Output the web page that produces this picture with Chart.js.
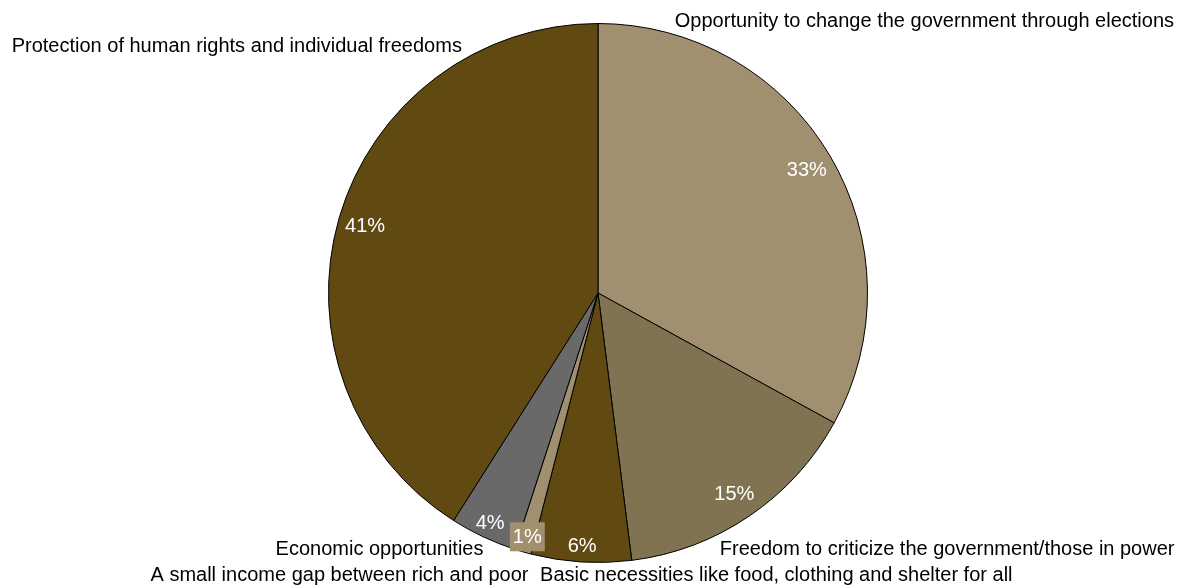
<!DOCTYPE html>
<html>
<head>
<meta charset="utf-8">
<script src="https://cdn.jsdelivr.net/npm/chart.js@4"></script>
<style>
  html, body { margin: 0; padding: 0; background: #fff; }
  #wrap { width: 1181px; height: 588px; }
</style>
</head>
<body>
<div id="wrap"><canvas id="pie-chart"></canvas></div>
<script>
var categories = [
    'Opportunity to change the government through elections',
    'Freedom to criticize the government/those in power',
    'Basic necessities like food, clothing and shelter for all',
    'A small income gap between rich and poor',
    'Economic opportunities',
    'Protection of human rights and individual freedoms'
];
var shares = [33, 15, 6, 1, 4, 41];
var colors = ['#a09070', '#7f7352', '#614a12', '#a09070', '#696969', '#614a12'];

// where each category name sits, in pie radii from the centre
var namePos = [
    { x: 0.285, y: -1.008, align: 'left' },
    { x: 0.452, y: 0.952, align: 'left' },
    { x: -0.215, y: 1.048, align: 'left' },
    { x: -0.258, y: 1.048, align: 'right' },
    { x: -0.425, y: 0.952, align: 'right' },
    { x: -0.505, y: -0.915, align: 'right' }
];

var FONT = '20px "Liberation Sans", Arial, sans-serif';

var pieLabels = {
    id: 'pieLabels',
    afterDatasetsDraw: function (chart) {
        var ctx = chart.ctx;
        var meta = chart.getDatasetMeta(0);
        var total = shares.reduce(function (a, b) { return a + b; }, 0);
        ctx.save();
        ctx.font = FONT;
        ctx.textBaseline = 'middle';
        meta.data.forEach(function (arc, i) {
            var p = arc.getProps(['x', 'y', 'startAngle', 'endAngle', 'outerRadius'], true);
            var mid = (p.startAngle + p.endAngle) / 2;
            var rr = p.outerRadius * (shares[i] < 10 ? 0.94 : 0.9);
            var lx = p.x + Math.cos(mid) * rr;
            var ly = p.y + Math.sin(mid) * rr;
            var txt = Math.round(shares[i] / total * 100) + '%';
            ctx.textAlign = 'center';
            if (shares[i] < 2) {
                var w = ctx.measureText(txt).width;
                ctx.fillStyle = colors[i];
                ctx.fillRect(lx - w / 2 - 3, ly - 14, w + 6, 29);
            }
            ctx.fillStyle = '#ffffff';
            ctx.fillText(txt, lx, ly + 1);

            var np = namePos[i];
            ctx.fillStyle = '#000000';
            ctx.textAlign = np.align;
            ctx.fillText(categories[i], p.x + np.x * p.outerRadius, p.y + np.y * p.outerRadius);
        });
        ctx.restore();
    }
};

var pieChart = new Chart(document.getElementById('pie-chart'), {
    type: 'pie',
    data: {
        labels: categories,
        datasets: [
            {
                data: shares,
                backgroundColor: colors,
                borderColor: '#000000',
                borderWidth: 1
            }
        ]
    },
    options: {
        responsive: true,
        maintainAspectRatio: false,
        animation: false,
        layout: {
            padding: { left: 328, right: 313, top: 23, bottom: 25 }
        },
        plugins: {
            legend: { display: false },
            tooltip: { enabled: false }
        }
    },
    plugins: [pieLabels]
});
</script>
</body>
</html>
